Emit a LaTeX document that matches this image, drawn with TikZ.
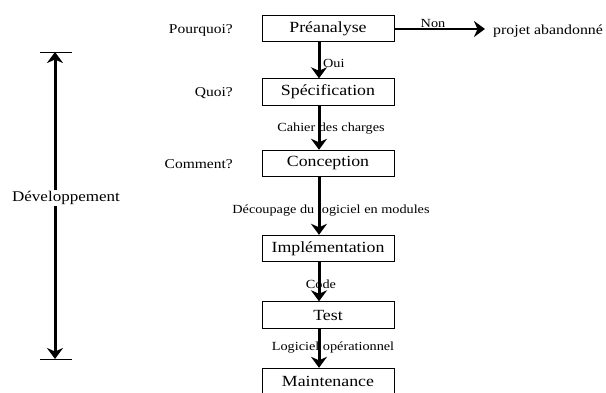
\documentclass[tikz,border=0pt]{standalone}
\usepackage{fontspec}
\setmainfont[FakeStretch=1.15]{Liberation Serif}
\usetikzlibrary{arrows.meta}

\tikzset{
  phase/.style={draw, line width=0.9pt, minimum width=132pt, minimum height=26.5pt,
    inner sep=0pt, font=\fontsize{15.5}{17}\selectfont},
  tip/.tip={Stealth[length=11pt,width=16pt,inset=3.5pt]},
  flow/.style={line width=3pt, -tip},
  lbl/.style={inner sep=0pt, font=\fontsize{12.4}{14}\selectfont},
  question/.style={inner sep=0pt, anchor=east, font=\fontsize{13.5}{15}\selectfont},
  bar/.style={line width=0.8pt},
  span/.style={line width=3pt, tip-tip}
}

\begin{document}
\begin{tikzpicture}[x=1pt, y=-1pt]
\useasboundingbox (0,0) rectangle (606,392);
\clip (0,0) rectangle (606,392);

% phases of the life cycle
\node[phase] (pre)  at (328,28.5)  {Préanalyse};
\node[phase] (spec) at (328,92)    {Spécification};
\node[phase] (conc) at (328,163.5) {Conception};
\node[phase] (impl) at (328,248.5) {Implémentation};
\node[phase] (test) at (328,315)   {Test};
\node[phase] (main) at (328,381.5) {Maintenance};

% questions on the left
\node[question] (q1) at (233,30)  {Pourquoi?};
\node[question] (q2) at (233,93)  {Quoi?};
\node[question] (q3) at (233,164) {Comment?};

% deliverables between phases
\node[lbl, anchor=west] (oui) at (323,63) {Oui};
\node[lbl] (cdc)  at (331,129) {Cahier des charges};
\node[lbl] (dec)  at (331,211) {Découpage du logiciel en modules};
\node[lbl] (code) at (321,284) {Code};
\node[lbl] (lop)  at (333,348) {Logiciel opérationnel};

% abandoned branch
\node[inner sep=0pt, anchor=west, font=\fontsize{13.8}{15}\selectfont] (aband) at (493,31) {projet abandonné};
\coordinate (nonend) at (485,29);
\node[lbl, anchor=south] (non) at (433,27.5) {Non};

% flow arrows (drawn over the labels)
\draw[flow] ([xshift=-9pt]pre.south)  -- ([xshift=-9pt]spec.north);
\draw[flow] ([xshift=-9pt]spec.south) -- ([xshift=-9pt]conc.north);
\draw[flow] ([xshift=-9pt]conc.south) -- ([xshift=-9pt]impl.north);
\draw[flow] ([xshift=-9pt]impl.south) -- ([xshift=-9pt]test.north);
\draw[flow] ([xshift=-9pt]test.south) -- ([xshift=-9pt]main.north);
\draw[flow, line width=2.4pt] (pre.east |- 0,29) -- (nonend);

% development span
\coordinate (dtop) at (55,52);
\coordinate (dbot) at (55,359);
\draw[bar] (40,52) -- (72,52);
\draw[bar] (40,359) -- (72,359);
\draw[span] (dtop) -- (dbot);
\node[fill=white, inner sep=1pt, font=\fontsize{14.8}{16}\selectfont] (dev) at (66,198) {Développement};
\end{tikzpicture}
\end{document}
